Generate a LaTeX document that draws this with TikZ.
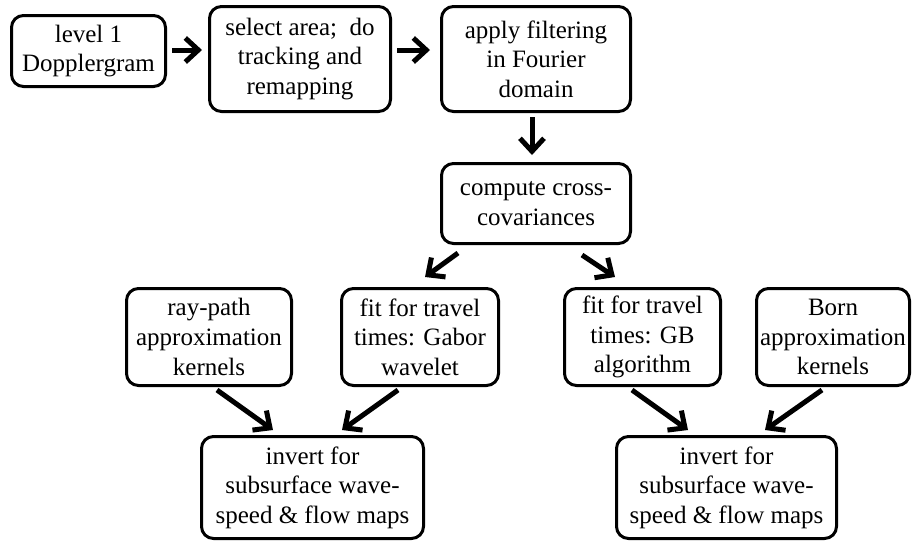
\documentclass[tikz,border=0pt]{standalone}
\usepackage{fontspec}
\setmainfont{Liberation Serif}
\usetikzlibrary{arrows.meta,calc}
\tikzset{
  box/.style={draw, line width=1.5pt, rounded corners=6pt, align=center, inner sep=0pt,
    font=\fontsize{12.5}{14.8}\selectfont},
  arr/.style={line width=2.5pt, -{Straight Barb[length=6.5pt,width=12pt]}}
}
\begin{document}
\begin{tikzpicture}[x=0.5pt,y=-0.5pt]
\useasboundingbox (0,0) rectangle (912,543);
\node[box, minimum width=77pt, minimum height=35.5pt] (b1) at (88.5,51) {level 1\\Dopplergram};
\node[box, minimum width=90.5pt, minimum height=52.5pt] (b2) at (300,59) {select area;~ do\\tracking and\\remapping};
\node[box, minimum width=94.5pt, minimum height=52.5pt] (b3) at (536,59) {apply filtering\\in Fourier\\domain};
\node[box, minimum width=94.5pt, minimum height=40pt] (b4) at (536,203.5) {compute cross-\\covariances};
\node[box, minimum width=82.5pt, minimum height=48.5pt] (b5) at (209,337) {ray-path\\approximation\\kernels};
\node[box, minimum width=78.5pt, minimum height=48.5pt] (b6) at (420,337) {fit for travel\\times: Gabor\\wavelet};
\node[box, minimum width=111pt, minimum height=51pt] (b7) at (312.5,487.5) {invert for\\subsurface wave-\\speed \& flow maps};
\node[box, minimum width=78pt, minimum height=48.5pt] (b8) at (642.5,337) {fit for travel\\times: GB\\algorithm};
\node[box, minimum width=76.5pt, minimum height=48.5pt] (b9) at (833,337) {Born\\approximation\\kernels};
\node[box, minimum width=110pt, minimum height=51pt] (b10) at (726.5,487.5) {invert for\\subsurface wave-\\speed \& flow maps};

\draw[arr] ($(b1.east)+(5,-1)$) -- ($(b2.west)+(-6,-9)$);
\draw[arr] ($(b2.east)+(5,-9)$) -- ($(b3.west)+(-10,-9)$);
\draw[arr] ($(b3.south)+(-4,4)$) -- ($(b4.north)+(-4,-7)$);
\draw[arr] ($(b4.south)+(-78,8)$) -- ($(b6.north)+(5,-10)$);
\draw[arr] ($(b4.south)+(46,10)$) -- ($(b8.north)+(-27.5,-10)$);
\draw[arr] ($(b5.south)+(8,3)$) -- ($(b7.north)+(-39.5,-5)$);
\draw[arr] ($(b6.south)+(-22,3)$) -- ($(b7.north)+(29.5,-5)$);
\draw[arr] ($(b8.south)+(-10.5,3)$) -- ($(b10.north)+(-38.5,-5)$);
\draw[arr] ($(b9.south)+(-11,3)$) -- ($(b10.north)+(38.5,-5)$);
\end{tikzpicture}
\end{document}
